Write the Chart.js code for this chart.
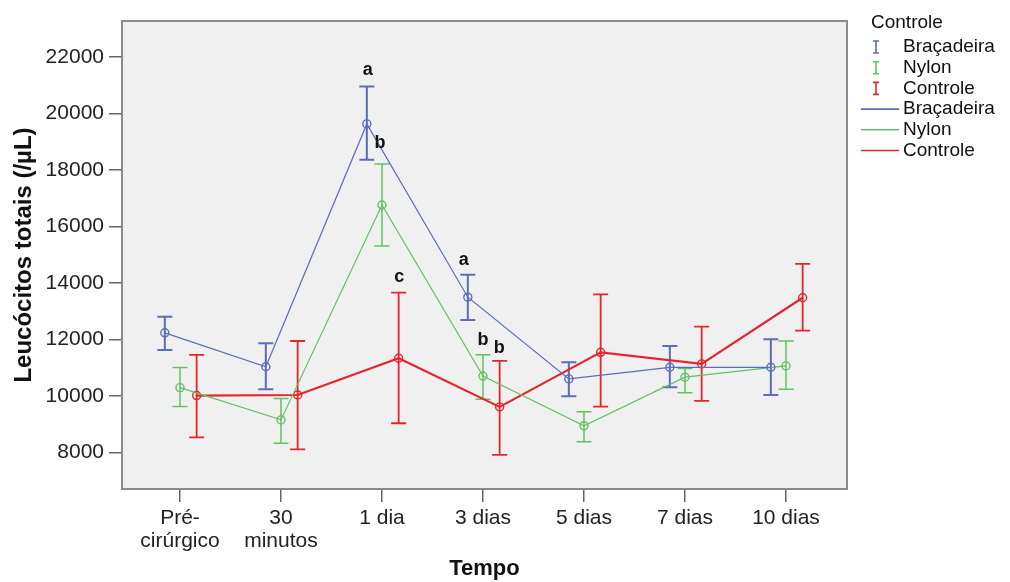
<!DOCTYPE html>
<html>
<head>
<meta charset="utf-8">
<script src="https://cdn.jsdelivr.net/npm/chart.js@4.4.0/dist/chart.umd.min.js"></script>
<style>
  html, body { margin: 0; padding: 0; background: #fff; }
</style>
</head>
<body>
<canvas id="grafico" width="1010" height="582"></canvas>
<script>
// Categorias do eixo X
const tempos = [["Pré-", "cirúrgico"], ["30", "minutos"], "1 dia", "3 dias", "5 dias", "7 dias", "10 dias"];
const grupos = ["Braçadeira", "Nylon", "Controle"];

// Médias e limites das barras de erro
const bracMedia = [12240, 11040, 19630, 13500, 10610, 11020, 11020];
const bracSup   = [12810, 11870, 20950, 14290, 11200, 11770, 12010];
const bracInf   = [11630, 10240, 18360, 12690, 10000, 10310, 10040];

const nylonMedia = [10300, 9160, 16760, 10710, 8950, 10670, 11070];
const nylonSup   = [11010, 9920, 18210, 11460, 9450, 10980, 11950];
const nylonInf   = [9630, 8330, 15310, 9890, 8390, 10120, 10240];

const contMedia = [10020, 10040, 11340, 9620, 11550, 11140, 13480];
const contSup   = [11460, 11950, 13660, 11250, 13600, 12460, 14680];
const contInf   = [8540, 8120, 9040, 7920, 9630, 9830, 12320];

const yTicks = [8000, 10000, 12000, 14000, 16000, 18000, 20000, 22000];

// Letras de significância: texto, posição x (em unidades de categoria) e y
const letras = [
  { texto: "a", x: 1.86, y: 21540 },
  { texto: "b", x: 1.98, y: 18960 },
  { texto: "c", x: 2.17, y: 14220 },
  { texto: "a", x: 2.81, y: 14820 },
  { texto: "b", x: 3.00, y: 11990 },
  { texto: "b", x: 3.16, y: 11700 }
];

const cores = ["#5b6cb8", "#62c262", "#e3262c"];
const deslocamento = [-0.15, 0, 0.165];
const series = [
  { media: bracMedia, sup: bracSup, inf: bracInf, linha: 1.2, erro: 2 },
  { media: nylonMedia, sup: nylonSup, inf: nylonInf, linha: 1.2, erro: 1.5 },
  { media: contMedia, sup: contSup, inf: contInf, linha: 2.2, erro: 1.8 }
];

const FONTE = "'Liberation Sans', Arial, sans-serif";

// Fundo cinza da área do gráfico
const fundo = {
  id: "fundo",
  beforeDraw(chart) {
    const { ctx, chartArea: a } = chart;
    ctx.save();
    ctx.fillStyle = "#f0f0f0";
    ctx.fillRect(a.left, a.top, a.right - a.left, a.bottom - a.top);
    ctx.restore();
  },
  afterDraw(chart) {
    const { ctx, chartArea: a } = chart;
    ctx.save();
    ctx.strokeStyle = "#8a8a8a";
    ctx.lineWidth = 2;
    ctx.strokeRect(a.left, a.top, a.right - a.left, a.bottom - a.top);
    ctx.restore();
  }
};

// Barras de erro
const barrasErro = {
  id: "barrasErro",
  beforeDatasetsDraw(chart) {
    const { ctx, scales: { x, y } } = chart;
    ctx.save();
    series.forEach((s, k) => {
      ctx.strokeStyle = cores[k];
      ctx.lineWidth = s.erro;
      s.media.forEach((m, i) => {
        const px = x.getPixelForValue(i + deslocamento[k]);
        const yt = y.getPixelForValue(s.sup[i]);
        const yb = y.getPixelForValue(s.inf[i]);
        ctx.beginPath();
        ctx.moveTo(px, yt); ctx.lineTo(px, yb);
        ctx.moveTo(px - 7.5, yt); ctx.lineTo(px + 7.5, yt);
        ctx.moveTo(px - 7.5, yb); ctx.lineTo(px + 7.5, yb);
        ctx.stroke();
      });
    });
    ctx.restore();
  }
};

// Letras e legenda
const anotacoes = {
  id: "anotacoes",
  afterDraw(chart) {
    const { ctx, scales: { x, y } } = chart;
    ctx.save();
    ctx.fillStyle = "#111";
    ctx.font = "bold 18px " + FONTE;
    ctx.textAlign = "center";
    ctx.textBaseline = "middle";
    letras.forEach(l => ctx.fillText(l.texto, x.getPixelForValue(l.x), y.getPixelForValue(l.y)));

    // legenda
    ctx.textAlign = "left";
    ctx.font = "19px " + FONTE;
    ctx.fillText("Controle", 871, 23);
    grupos.forEach((g, k) => {
      const yy = 47 + k * 20.7;
      ctx.strokeStyle = cores[k];
      ctx.lineWidth = 1.6;
      ctx.beginPath();
      ctx.moveTo(876, yy - 6); ctx.lineTo(876, yy + 6);
      ctx.moveTo(873, yy - 6); ctx.lineTo(879, yy - 6);
      ctx.moveTo(873, yy + 6); ctx.lineTo(879, yy + 6);
      ctx.stroke();
      ctx.fillText(g, 903, yy);
    });
    grupos.forEach((g, k) => {
      const yy = 47 + (k + 3) * 20.7;
      ctx.strokeStyle = cores[k];
      ctx.lineWidth = 1.6;
      ctx.beginPath();
      ctx.moveTo(861, yy); ctx.lineTo(899, yy);
      ctx.stroke();
      ctx.fillText(g, 903, yy);
    });
    ctx.restore();
  }
};

new Chart(document.getElementById("grafico"), {
  type: "line",
  data: {
    datasets: series.map((s, k) => ({
      label: grupos[k],
      data: s.media.map((v, i) => ({ x: i + deslocamento[k], y: v })),
      borderColor: cores[k],
      borderWidth: s.linha,
      pointRadius: 4,
      pointBorderWidth: 1.4,
      pointBorderColor: cores[k],
      pointBackgroundColor: "rgba(0,0,0,0)",
      tension: 0
    }))
  },
  options: {
    responsive: false,
    animation: false,
    devicePixelRatio: 1,
    layout: { padding: { top: 21, right: 163, left: 0, bottom: 0 } },
    plugins: { legend: { display: false }, tooltip: { enabled: false } },
    scales: {
      x: {
        type: "linear",
        min: -0.574,
        max: 6.604,
        afterBuildTicks: s => { s.ticks = tempos.map((t, i) => ({ value: i })); },
        afterFit: s => { s.height = 93; },
        ticks: {
          callback: v => tempos[v],
          font: { family: FONTE, size: 21, lineHeight: 1.1 },
          color: "#222",
          padding: 5,
          maxRotation: 0,
          autoSkip: false
        },
        grid: { drawOnChartArea: false, drawTicks: true, tickLength: 13, color: "#666", lineWidth: 1.5 },
        border: { display: false },
        title: { display: true, text: "Tempo", font: { family: FONTE, size: 22, weight: "bold" }, color: "#111", padding: { top: 0, bottom: 0 } }
      },
      y: {
        type: "linear",
        min: 6715,
        max: 23270,
        afterBuildTicks: s => { s.ticks = yTicks.map(v => ({ value: v })); },
        afterFit: s => { s.width = 122; },
        ticks: {
          callback: v => String(v),
          font: { family: FONTE, size: 21 },
          color: "#222",
          padding: 5
        },
        grid: { drawOnChartArea: false, drawTicks: true, tickLength: 13, color: "#666", lineWidth: 1.5 },
        border: { display: false },
        title: { display: true, text: "Leucócitos totais (/µL)", font: { family: FONTE, size: 24, weight: "bold" }, color: "#111", padding: { top: 10, bottom: 0 } }
      }
    }
  },
  plugins: [fundo, barrasErro, anotacoes]
});
</script>
</body>
</html>
